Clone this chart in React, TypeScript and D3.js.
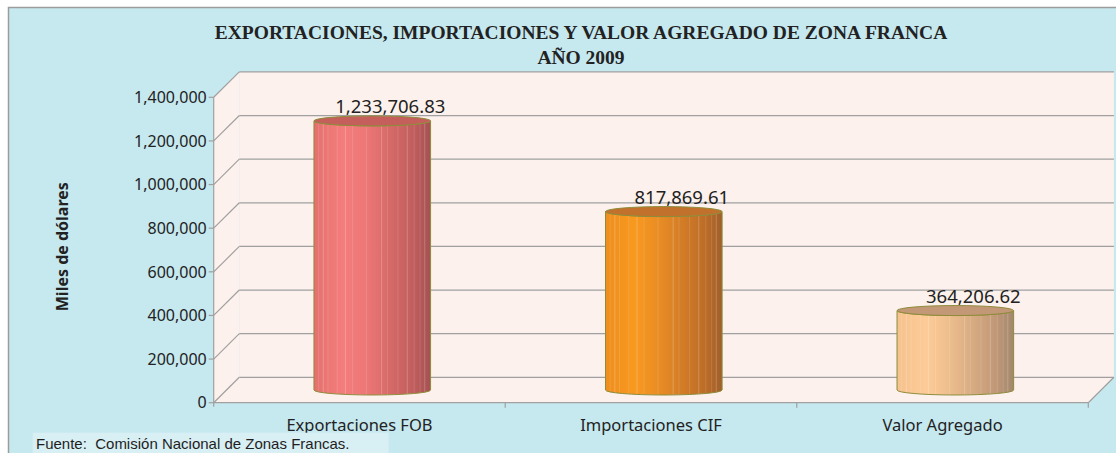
import React from 'react';
import * as d3 from 'd3';

const categories = ['Exportaciones FOB', 'Importaciones CIF', 'Valor Agregado'];
const values = [1233706.83, 817869.61, 364206.62];
const yTicks = [0, 200000, 400000, 600000, 800000, 1000000, 1200000, 1400000];

const titleLines = ['EXPORTACIONES, IMPORTACIONES Y VALOR AGREGADO DE ZONA FRANCA', 'AÑO 2009'];
const yTitle = 'Miles de dólares';
const source = 'Fuente:  Comisión Nacional de Zonas Francas.';

// cylinder shading, left to right
const barShades = [
  { stops: ['#E4716D', '#F47D7C', '#EC7776', '#D66A68', '#C15E5D', '#A55152'], top: '#C45F5B' },
  { stops: ['#EE8E1E', '#F8991F', '#EA8D24', '#D47D27', '#BD6D28', '#A05F2A'], top: '#C2712D' },
  { stops: ['#F6C28E', '#FDCB97', '#EDBE8D', '#D7AB82', '#C09877', '#A2876D'], top: '#C39876' },
];
const stripeAt = [0.04, 0.08, 0.12, 0.2, 0.27, 0.33, 0.45, 0.58, 0.63, 0.72, 0.8, 0.86, 0.91, 0.95];

const W = 1116;
const H = 453;
const depthX = 25.6;
const depthY = 25.4;
const wall = '#FCF1EC';
const grid = '#A0A0A0';
const textCol = '#222';
const sansFont = '"Noto Sans", "Open Sans", sans-serif';

export default function App() {
  const x = d3.scaleBand<string>().domain(categories).range([213.7, 1088.3]);
  const y = d3.scaleLinear().domain([0, 1400000]).range([402.7, 97.3]);
  const fmt = d3.format(',.2f');
  const fmtTick = d3.format(',');

  const x0 = x.range()[0];
  const x1 = x.range()[1];
  const yb = y(0);
  const yt = y(1400000);
  const rx = x.bandwidth() * 0.2;
  const ry = 5;

  return (
    <svg width={W} height={H} style={{ position: 'absolute', left: 0, top: 0 }}>
      <defs>
        {barShades.map((s, i) => (
          <linearGradient key={i} id={`cyl${i}`} x1="0" x2="1" y1="0" y2="0">
            {s.stops.map((c, j) => (
              <stop key={j} offset={[0, 0.25, 0.45, 0.65, 0.85, 1][j]} stopColor={c} />
            ))}
          </linearGradient>
        ))}
      </defs>

      <rect x={0} y={0} width={W} height={H} fill="#fff" />
      <rect x={8.5} y={7.5} width={W + 20} height={H + 20} fill="#C6E8EF" stroke="#9C9C9C" strokeWidth={1.5} />

      {/* title */}
      {titleLines.map((t, i) => (
        <text key={i} x={581} y={39 + i * 25} textAnchor="middle" fontFamily='"Liberation Serif", "Times New Roman", serif'
          fontWeight="bold" fontSize={19.5} fill={textCol}>{t}</text>
      ))}

      {/* walls */}
      <polygon points={`${x0},${yb} ${x0},${yt} ${x0 + depthX},${yt - depthY} ${x0 + depthX},${yb - depthY}`} fill={wall} />
      <rect x={x0 + depthX} y={yt - depthY} width={x1 - x0} height={yb - yt} fill={wall} />
      <polygon points={`${x0},${yb} ${x1},${yb} ${x1 + depthX},${yb - depthY} ${x0 + depthX},${yb - depthY}`} fill={wall} />

      {yTicks.map(t => (
        <g key={t} stroke={grid} strokeWidth={1.2} fill="none">
          <line x1={x0} y1={y(t)} x2={x0 + depthX} y2={y(t) - depthY} />
          <line x1={x0 + depthX} y1={y(t) - depthY} x2={x1 + depthX} y2={y(t) - depthY} />
          <line x1={x0 - 5} y1={y(t)} x2={x0} y2={y(t)} />
        </g>
      ))}
      <g stroke={grid} strokeWidth={1.2}>
        <line x1={x0} y1={yt} x2={x0} y2={yb + 4} />
        <line x1={x0} y1={yb} x2={x1} y2={yb} />
        <line x1={x1} y1={yb} x2={x1 + depthX} y2={yb - depthY} />
        {categories.map(c => (
          <line key={c} x1={(x(c) as number) + x.bandwidth()} y1={yb} x2={(x(c) as number) + x.bandwidth()} y2={yb + 5} />
        ))}
      </g>

      {/* y tick labels */}
      {yTicks.map(t => (
        <text key={t} x={x0 - 7} y={y(t)} dy="0.36em" textAnchor="end" fontFamily={sansFont} fontSize={16} fill={textCol}>
          {fmtTick(t)}
        </text>
      ))}

      <text transform="translate(68,246.7) rotate(-90)" textAnchor="middle" fontFamily={sansFont} fontWeight="bold"
        fontSize={16} fill={textCol}>{yTitle}</text>

      {/* cylinders */}
      {categories.map((c, i) => {
        const cx = (x(c) as number) + x.bandwidth() / 2 + depthX / 2;
        const top = y(values[i]) - depthY / 2;
        const bot = y(0) - depthY / 2;
        const body = `M${cx - rx},${top} L${cx - rx},${bot} A${rx},${ry} 0 0 0 ${cx + rx},${bot} L${cx + rx},${top} A${rx},${ry} 0 0 1 ${cx - rx},${top} Z`;
        return (
          <g key={c}>
            <path d={body} fill={`url(#cyl${i})`} />
            {stripeAt.map((f, j) => {
              const sx = cx - rx + f * 2 * rx;
              const off = Math.sqrt(Math.max(0, 1 - ((sx - cx) / rx) ** 2)) * ry;
              return (
                <line key={j} x1={sx} x2={sx} y1={top + off} y2={bot + off} stroke="#fff"
                  strokeOpacity={j % 3 === 1 ? 0.22 : 0.12} strokeWidth={1} />
              );
            })}
            <path d={body} fill="none" stroke="#8E8C3A" strokeWidth={1} />
            <ellipse cx={cx} cy={top} rx={rx} ry={ry} fill={barShades[i].top} stroke="#8E8C3A" strokeWidth={1} />
            <text x={cx + 18} y={top - 8} textAnchor="middle" fontFamily={sansFont} fontSize={18.5} fill={textCol}>
              {fmt(values[i])}
            </text>
          </g>
        );
      })}

      {/* category labels */}
      {categories.map(c => (
        <text key={c} x={(x(c) as number) + x.bandwidth() / 2} y={431} textAnchor="middle" fontFamily={sansFont}
          fontSize={16.5} fill={textCol}>{c}</text>
      ))}

      {/* source note */}
      <rect x={32.7} y={432.7} width={356} height={21} fill="#D8EFF4" />
      <text x={36} y={449} fontFamily='"Liberation Sans", Arial, sans-serif' fontSize={15} fill="#1E1E1E"
        style={{ whiteSpace: 'pre' }}>{source}</text>
    </svg>
  );
}
